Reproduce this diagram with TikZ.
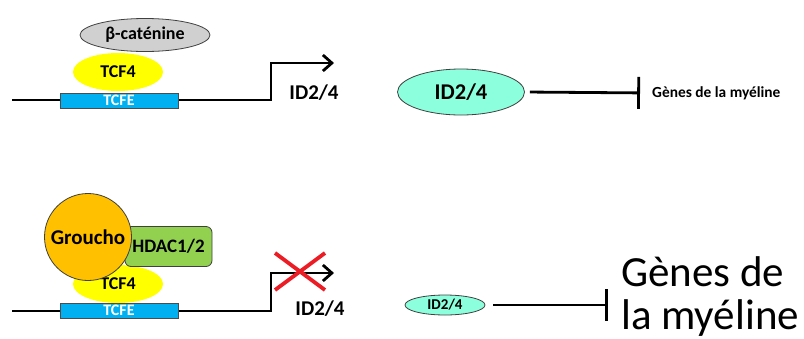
\documentclass[tikz,border=0pt]{standalone}
\usepackage{fontspec}
\setmainfont{Carlito}
\usepackage{tikz}
\usetikzlibrary{shapes,arrows,positioning,calc,arrows.meta}
\definecolor{tcfecolor}{RGB}{0,176,240}
\definecolor{tcfcolor}{RGB}{255,255,0}
\definecolor{catcolor}{RGB}{208,208,208}
\definecolor{idcolor}{RGB}{140,255,220}
\definecolor{groucolor}{RGB}{255,192,0}
\definecolor{hdaccolor}{RGB}{146,208,80}
\definecolor{crosscolor}{RGB}{235,28,36}

\begin{document}
\begin{tikzpicture}[x=1pt, y=-1pt,
    dna/.style={line width=2.8pt},
    tss/.style={dna, -{Straight Barb[length=9pt,width=16pt]}},
    inhib/.style={line width=2.8pt, -{Bar[width=32pt]}},
    tcfebox/.style={draw=black!70, line width=0.6pt, fill=tcfecolor, minimum width=118, minimum height=15, inner sep=0, text=white, font=\bfseries\fontsize{16}{16}\selectfont},
    tcfblob/.style={ellipse, fill=tcfcolor, minimum width=90, minimum height=38, inner sep=0, font=\bfseries\fontsize{18}{18}\selectfont},
    catblob/.style={ellipse, draw=black!75, line width=0.8pt, fill=catcolor, minimum width=130, minimum height=33, inner sep=0, font=\bfseries\fontsize{18}{18}\selectfont},
    idblob/.style={ellipse, draw=black!75, line width=0.8pt, fill=idcolor, inner sep=0},
    idtext/.style={font=\bfseries\fontsize{21}{21}\selectfont},
    grouball/.style={circle, draw=black!75, line width=0.8pt, fill=groucolor, minimum size=87, inner sep=0, font=\bfseries\fontsize{21}{21}\selectfont},
    hdacbox/.style={rectangle, rounded corners=6pt, draw=black!75, line width=0.8pt, fill=hdaccolor, minimum width=87, minimum height=40, inner sep=0, font=\bfseries\fontsize{19}{19}\selectfont},
    cross/.style={line width=3.8pt, crosscolor}]

    \useasboundingbox (0,0) rectangle (804,338);

    % Active promoter
    \coordinate (dnaA) at (12,100);
    \coordinate (tssA) at (271,100);
    \coordinate (endA) at (334,63);
    \draw [tss] (dnaA) -- (tssA) |- (endA);
    \node [tcfebox] (tcfeA) at (119,100.5) {\raisebox{-3pt}{TCFE}};
    \node [tcfblob] (tcfA) at (118,72) {\raisebox{-3pt}{TCF4}};
    \node [catblob] (catA) at (145,35) {β-caténine};
    \node [idtext] (geneA) at (314,93) {ID2/4};

    % ID2/4 against myelin genes
    \node [idblob, minimum width=127, minimum height=46, font=\bfseries\fontsize{22.5}{22.5}\selectfont] (idA) at (461,92) {ID2/4};
    \node [anchor=west, inner sep=0, font=\bfseries\fontsize{15.4}{15.4}\selectfont] (myelA) at (652,93) {Gènes de la myéline};
    \draw [inhib, shorten <=5pt, shorten >=12pt] (idA.east) -- (myelA.west);

    % Repressed promoter
    \coordinate (dnaB) at (12,311);
    \coordinate (tssB) at (271,311);
    \coordinate (endB) at (334,273);
    \draw [tss] (dnaB) -- (tssB) |- (endB);
    \node [tcfebox] (tcfeB) at (119,310.5) {\raisebox{-3pt}{TCFE}};
    \node [tcfblob] (tcfB) at (118,284) {\raisebox{-3pt}{TCF4}};
    \node [hdacbox] (hdac) at (168.5,246.5) {\raisebox{-2pt}{HDAC1/2}};
    \node [grouball] (grou) at (88,237) {Groucho};
    \draw [cross] (275,253) -- (325,290) (275,290) -- (325,253);
    \node [idtext] (geneB) at (320,309) {ID2/4};

    % Weak ID2/4
    \node [idblob, minimum width=80, minimum height=20, font=\bfseries\fontsize{15}{15}\selectfont] (idB) at (445,305) {ID2/4};
    \node [anchor=west, inner sep=0, align=left, font=\fontsize{43}{43}\selectfont] (myelB) at (621,297) {Gènes de\\la myéline};
    \draw [inhib, shorten <=8pt, shorten >=13pt] (idB.east) -- (idB.east -| myelB.west);

\end{tikzpicture}
\end{document}
